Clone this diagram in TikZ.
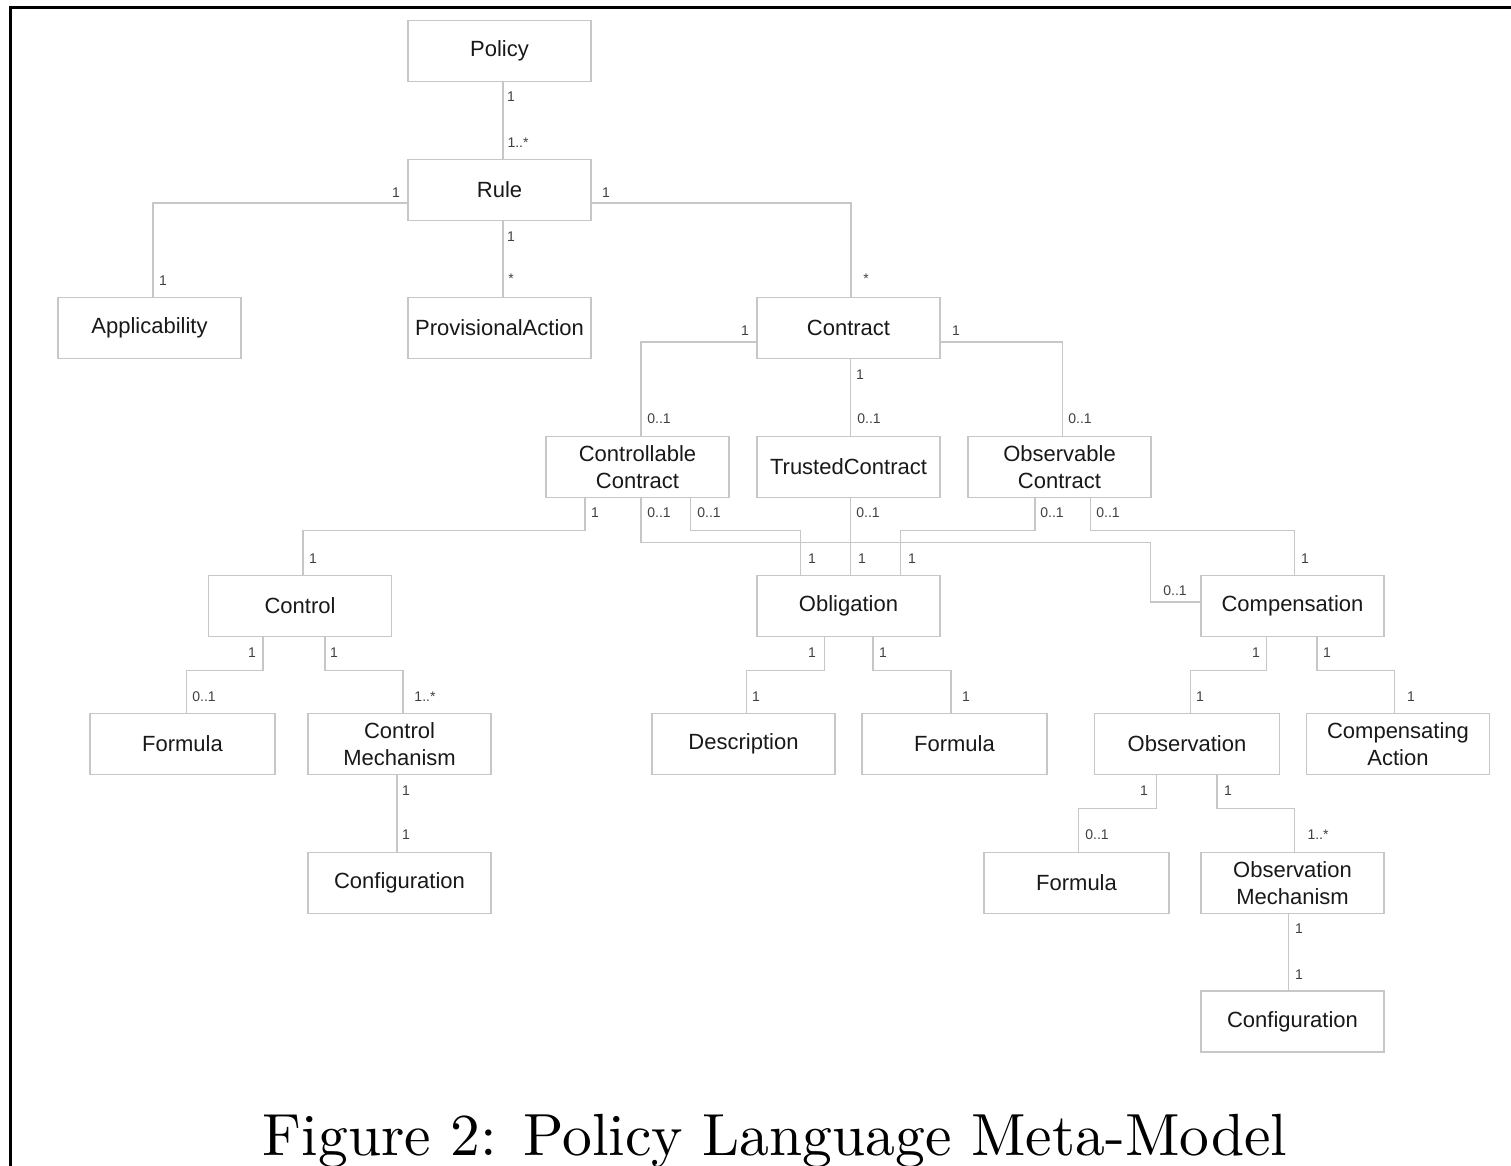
\documentclass[tikz,border=0pt]{standalone}
\usepackage{fontspec}
\newfontfamily\umlfont{Liberation Sans}
\newfontfamily\capfont{lmroman10-regular}[Extension=.otf]
\begin{document}
\begin{tikzpicture}[x=1pt,y=-1pt,
  cls/.style={draw=black!22, line width=1.3pt, fill=white,
    minimum width=183pt, minimum height=61pt, inner sep=0pt,
    align=center, text=black!90,
    font=\umlfont\fontsize{22}{27.5}\selectfont},
  conn/.style={draw=black!22, line width=1.3pt},
  mult/.style={inner sep=0pt, text=black!75,
    font=\umlfont\fontsize{14}{14}\selectfont}]
\useasboundingbox (0,0) rectangle (1511,1165);

% page frame (top and left edges)
\draw[line width=2.6pt] (10.5,1175) -- (10.5,7.3) -- (1520,7.3);

% classes
\node[cls] (policy)   at (499.5,51)   {Policy};
\node[cls] (rule)     at (499.5,190)  {Rule};
\node[cls] (appl)     at (149.5,328)  {Applicability};
\node[cls] (prov)     at (499.5,328)  {ProvisionalAction};
\node[cls] (contract) at (848.5,328)  {Contract};
\node[cls] (ctrlc)    at (637.5,467)  {Controllable\\Contract};
\node[cls] (trusted)  at (848.5,467)  {TrustedContract};
\node[cls] (obsc)     at (1059.5,467) {Observable\\Contract};
\node[cls] (control)  at (300,606)    {Control};
\node[cls] (oblig)    at (848.5,606)  {Obligation};
\node[cls] (comp)     at (1292.5,606) {Compensation};
\node[cls, minimum width=185pt] (formA) at (182.5,744) {Formula};
\node[cls] (cmech)    at (399.5,744)  {Control\\Mechanism};
\node[cls] (desc)     at (743.5,744)  {Description};
\node[cls, minimum width=185pt] (formB) at (954.5,744) {Formula};
\node[cls, minimum width=185pt] (obsv)  at (1187,744)  {Observation};
\node[cls] (compact)  at (1398,744)   {Compensating\\Action};
\node[cls] (confA)    at (399.5,883)  {Configuration};
\node[cls, minimum width=185pt] (formC) at (1076.5,883) {Formula};
\node[cls] (omech)    at (1292.5,883) {Observation\\Mechanism};
\node[cls] (confB)    at (1292.5,1021.5) {Configuration};

% associations
\draw[conn] ([xshift=3.5pt]policy.south) -- ([xshift=3.5pt]rule.north);
\draw[conn] ([yshift=-13pt]rule.west) -| ([xshift=3.5pt]appl.north);
\draw[conn] ([xshift=3.5pt]rule.south) -- ([xshift=3.5pt]prov.north);
\draw[conn] ([yshift=-13pt]rule.east) -| ([xshift=2.5pt]contract.north);
\draw[conn] ([yshift=-14pt]contract.west) -| ([xshift=3.5pt]ctrlc.north);
\draw[conn] ([xshift=2pt]contract.south) -- ([xshift=2pt]trusted.north);
\draw[conn] ([yshift=-14pt]contract.east) -| ([xshift=3pt]obsc.north);

\draw[conn] ([xshift=-52.5pt]ctrlc.south) -- ++(0,32.5) -| ([xshift=3pt]control.north);
\draw[conn] ([xshift=53pt]ctrlc.south) -- ++(0,32) -| ([xshift=-48pt]oblig.north);
\draw[conn] ([xshift=2pt]trusted.south) -- ([xshift=2pt]oblig.north);
\draw[conn] ([xshift=-24.5pt]obsc.south) -- ++(0,32) -| ([xshift=52pt]oblig.north);
\draw[conn] ([xshift=31pt]obsc.south) -- ++(0,32) -| ([xshift=2pt]comp.north);
\draw[conn] ([xshift=3.5pt]ctrlc.south) -- ++(0,44)
  -| ([xshift=-50pt,yshift=4pt]comp.west) -- ([yshift=4pt]comp.west);

\draw[conn] ([xshift=-37pt]control.south) -- ++(0,33) -| ([xshift=4pt]formA.north);
\draw[conn] ([xshift=25pt]control.south) -- ++(0,33) -| ([xshift=3.5pt]cmech.north);
\draw[conn] ([xshift=-2.5pt]cmech.south) -- ([xshift=-2.5pt]confA.north);

\draw[conn] ([xshift=-24pt]oblig.south) -- ++(0,33) -| ([xshift=3pt]desc.north);
\draw[conn] ([xshift=24.5pt]oblig.south) -- ++(0,33) -| ([xshift=-3.5pt]formB.north);

\draw[conn] ([xshift=-26pt]comp.south) -- ++(0,33) -| ([xshift=3.5pt]obsv.north);
\draw[conn] ([xshift=24.5pt]comp.south) -- ++(0,33) -| ([xshift=-3.3pt]compact.north);

\draw[conn] ([xshift=-30.7pt]obsv.south) -- ++(0,33) -| ([xshift=2pt]formC.north);
\draw[conn] ([xshift=30pt]obsv.south) -- ++(0,33) -| ([xshift=1.7pt]omech.north);
\draw[conn] ([xshift=-4pt]omech.south) -- ([xshift=-4pt]confB.north);

% multiplicities
\node[mult] (m01) at (511,97)   {1};
\node[mult] (m02) at (518,143)  {1..*};
\node[mult] (m03) at (396,193)  {1};
\node[mult] (m04) at (606,193)  {1};
\node[mult] (m05) at (163,281)  {1};
\node[mult] (m06) at (511,237)  {1};
\node[mult] (m07) at (511,279)  {*};
\node[mult] (m08) at (866,279)  {*};
\node[mult] (m09) at (745,331)  {1};
\node[mult] (m10) at (956,331)  {1};
\node[mult] (m11) at (860,375)  {1};
\node[mult] (m12) at (659,419)  {0..1};
\node[mult] (m13) at (869,419)  {0..1};
\node[mult] (m14) at (1080,419) {0..1};
\node[mult] (m15) at (595,513)  {1};
\node[mult] (m16) at (659,513)  {0..1};
\node[mult] (m17) at (709,513)  {0..1};
\node[mult] (m18) at (868,513)  {0..1};
\node[mult] (m19) at (1052,513) {0..1};
\node[mult] (m20) at (1108,513) {0..1};
\node[mult] (m21) at (313,559)  {1};
\node[mult] (m22) at (812,559)  {1};
\node[mult] (m23) at (862,559)  {1};
\node[mult] (m24) at (912,559)  {1};
\node[mult] (m25) at (1305,559) {1};
\node[mult] (m26) at (1175,591) {0..1};
\node[mult] (m27) at (252,653)  {1};
\node[mult] (m28) at (334,653)  {1};
\node[mult] (m29) at (812,653)  {1};
\node[mult] (m30) at (883,653)  {1};
\node[mult] (m31) at (1256,653) {1};
\node[mult] (m32) at (1327,653) {1};
\node[mult] (m33) at (204,697)  {0..1};
\node[mult] (m34) at (425,697)  {1..*};
\node[mult] (m35) at (756,697)  {1};
\node[mult] (m36) at (966,697)  {1};
\node[mult] (m37) at (1200,697) {1};
\node[mult] (m38) at (1411,697) {1};
\node[mult] (m39) at (406,791)  {1};
\node[mult] (m40) at (1144,791) {1};
\node[mult] (m41) at (1228,791) {1};
\node[mult] (m42) at (406,835)  {1};
\node[mult] (m43) at (1097,835) {0..1};
\node[mult] (m44) at (1318,835) {1..*};
\node[mult] (m45) at (1299,929) {1};
\node[mult] (m46) at (1299,975) {1};

% caption
\node[anchor=base, inner sep=0pt, font=\capfont\fontsize{59.5}{60}\selectfont] (caption)
  at (775,1155) {Figure 2: Policy Language Meta-Model};
\end{tikzpicture}
\end{document}
